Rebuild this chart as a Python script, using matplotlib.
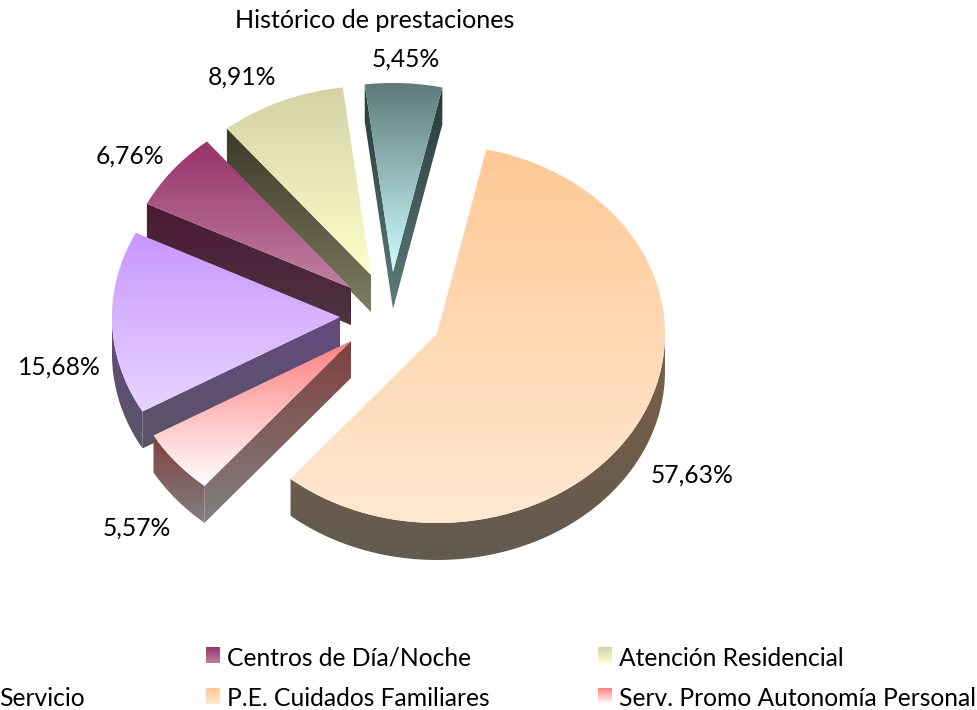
import numpy as np
import matplotlib
matplotlib.use("Agg")
import matplotlib.pyplot as plt
from matplotlib.colors import to_rgb
from matplotlib.patches import Polygon

title = "Histórico de prestaciones"
slices = ["P.E. Cuidados Familiares", "Serv. Promo Autonomía Personal", "Teleasistencia",
          "Centros de Día/Noche", "Atención Residencial", "P.E. Vinculada al Servicio"]
shares = [57.63, 5.57, 15.68, 6.76, 8.91, 5.45]

# face gradient top -> bottom
face_top = ["#FFC996", "#FF8080", "#C896FF", "#97336A", "#D2D2A5", "#5F7A7A"]
face_bot = ["#FFE8D2", "#FFFFFF", "#E8D4FF", "#C080A0", "#FFFFCC", "#CDFFFF"]
wall_top = ["#7A6045", "#804040", "#64497F", "#4C1A35", "#3A3A28", "#263838"]
wall_bot = ["#635A50", "#808080", "#5A5566", "#4D3340", "#7E7E62", "#607C7C"]

# where each slice ended up after exploding, relative to the pie centre
shift_x = [0, -86, -97, -86, -66, -44]
shift_y = [0, 7, -17, -46, -59, -62]
label_x = [692, 137, 59, 130, 242, 406]
label_y = [475, 528, 367, 156, 77, 59]

cx, cy = 437, 334
rx, ry = 228, 189
depth = 37
start_angle = 12.5


def fill_grad(verts, c_top, c_bot, z):
    t = np.linspace(0, 1, 256)[:, None]
    rgb = (1 - t) * np.array(to_rgb(c_top)) + t * np.array(to_rgb(c_bot))
    xs = [v[0] for v in verts]
    ys = [v[1] for v in verts]
    im = ax.imshow(rgb[:, None, :], extent=[min(xs) - 1, max(xs) + 1, max(ys), min(ys)],
                   aspect="auto", interpolation="bilinear", zorder=z)
    im.set_clip_path(Polygon(verts, closed=True, transform=ax.transData))


def arc(x0, y0, a0, a1):
    a = np.radians(np.linspace(a0, a1, 80))
    return list(zip(x0 + rx * np.sin(a), y0 - ry * np.cos(a)))


def wall(pts):
    return pts + [(x, y + depth) for x, y in pts][::-1]


fig = plt.figure(figsize=(9.78, 7.10), dpi=100)
ax = fig.add_axes([0, 0, 1, 1])
plt.rcParams["font.family"] = ["Lato", "DejaVu Sans"]

edges = start_angle + np.concatenate([[0], np.cumsum(shares)]) / sum(shares) * 360

# back to front, so the big slice goes last
z = 1
for i in [5, 4, 3, 2, 1, 0]:
    x0, y0 = cx + shift_x[i], cy + shift_y[i]
    a0, a1 = edges[i], edges[i + 1]
    rim = arc(x0, y0, a0, a1)
    # cut walls, only the ones that show under the top face
    if np.sin(np.radians(a0)) < 0:
        fill_grad(wall([(x0, y0), rim[0]]), wall_top[i], wall_bot[i], z)
        z += 1
    if np.sin(np.radians(a1)) > 0:
        fill_grad(wall([(x0, y0), rim[-1]]), wall_top[i], wall_bot[i], z)
        z += 1
    # outer wall only on the front half
    lo, hi = max(a0, 90), min(a1, 270)
    if lo < hi:
        fill_grad(wall(arc(x0, y0, lo, hi)), wall_top[i], wall_bot[i], z)
        z += 1
    fill_grad([(x0, y0)] + rim, face_top[i], face_bot[i], z)
    z += 1
    ax.text(label_x[i], label_y[i], f"{shares[i]:.2f}".replace(".", ",") + "%",
            ha="center", va="center", fontsize=17.7, color="#000000", zorder=100)

ax.text(375, 20, title, ha="center", va="center", fontsize=18.1, color="#000000", zorder=100)

# legend, the left column falls off the canvas in the original
leg_x = [-1, 227, 619, 227, 619]
leg_y = [699, 658, 658, 699, 699]
leg_txt = ["Servicio", slices[3], slices[4], slices[0], slices[1]]
leg_idx = [None, 3, 4, 0, 1]
for x, y, txt, i in zip(leg_x, leg_y, leg_txt, leg_idx):
    ax.text(x, y, txt, ha="left", va="center", fontsize=17.7, color="#000000", zorder=100)
    if i is not None:
        sw = [(x - 21, y - 11), (x - 7, y - 11), (x - 7, y + 5), (x - 21, y + 5)]
        fill_grad(sw, face_top[i], face_bot[i], 50)

ax.set_xlim(0, 978)
ax.set_ylim(710, 0)
ax.axis("off")
fig.savefig("out.png", dpi=100)
